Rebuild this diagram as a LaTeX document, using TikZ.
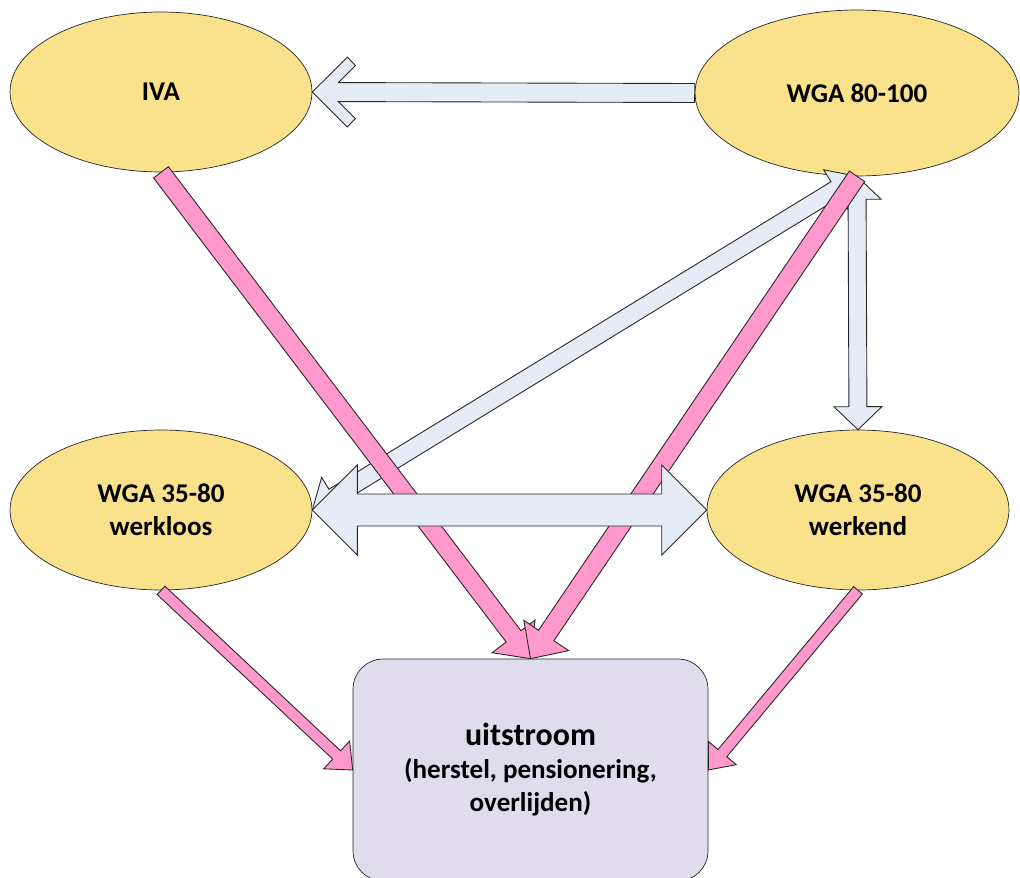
\documentclass[tikz,border=0pt]{standalone}
\usepackage{fontspec}
\setmainfont{Carlito}
\usetikzlibrary{shapes,calc,positioning}

\definecolor{stateyellow}{RGB}{250,226,141}
\definecolor{flowblue}{RGB}{230,236,246}
\definecolor{flowpink}{RGB}{255,153,204}
\definecolor{outlilac}{RGB}{224,220,236}

\tikzset{
    state/.style={ellipse, draw=black!85, fill=stateyellow, inner sep=0pt, minimum width=6.04cm, minimum height=3.2cm, align=center, font=\bfseries\fontsize{15.4}{18.8}\selectfont},
    big state/.style={state, minimum width=6.48cm, minimum height=3.32cm},
    outflow/.style={rectangle, rounded corners=0.6cm, draw=black!85, fill=outlilac, minimum width=7.1cm, minimum height=4.44cm, align=center, font=\bfseries\fontsize{15.4}{18.8}\selectfont},
    blue flow/.style={draw=black!85, fill=flowblue, line width=0.5pt},
    pink flow/.style={draw=black!85, fill=flowpink, line width=0.5pt}
}

% point #2 along the flow and #3 to its side, seen from #1
\newcommand{\flowpt}[3]{($(#1)+(\n1:#2)+(\n1+90:#3)$)}
% [style]{from}{to}{half shaft}{half head}{head length}
\newcommand{\flowarrow}[6][]{%
  \path[#1] let \p1=(#2), \p2=(#3), \n1={atan2(\y2-\y1,\x2-\x1)} in
    \flowpt{\p1}{0}{#4} -- \flowpt{\p2}{-#6}{#4} -- \flowpt{\p2}{-#6}{#5} -- (\p2)
    -- \flowpt{\p2}{-#6}{-#5} -- \flowpt{\p2}{-#6}{-#4} -- \flowpt{\p1}{0}{-#4} -- cycle;}
\newcommand{\flowboth}[6][]{%
  \path[#1] let \p1=(#2), \p2=(#3), \n1={atan2(\y2-\y1,\x2-\x1)} in
    \flowpt{\p1}{#6}{#4} -- \flowpt{\p2}{-#6}{#4} -- \flowpt{\p2}{-#6}{#5} -- (\p2)
    -- \flowpt{\p2}{-#6}{-#5} -- \flowpt{\p2}{-#6}{-#4} -- \flowpt{\p1}{#6}{-#4}
    -- \flowpt{\p1}{#6}{-#5} -- (\p1) -- \flowpt{\p1}{#6}{#5} -- cycle;}
% open (chevron) head
\newcommand{\flowopen}[3][]{%
  \path[#1] let \p1=(#2), \p2=(#3), \n1={atan2(\y2-\y1,\x2-\x1)} in
    \flowpt{\p1}{0}{9.5} -- \flowpt{\p2}{-26}{9.5} -- \flowpt{\p2}{-43}{26.5} -- \flowpt{\p2}{-35}{35} -- (\p2)
    -- \flowpt{\p2}{-35}{-35} -- \flowpt{\p2}{-43}{-26.5} -- \flowpt{\p2}{-26}{-9.5} -- \flowpt{\p1}{0}{-9.5} -- cycle;}

\begin{document}
\begin{tikzpicture}[x=0.02cm, y=0.02cm]
    \useasboundingbox (0,0) rectangle (1020,877);
    % states
    \node[state] (iva) at (161,785) {IVA};
    \node[big state] (wga) at (857,784) {WGA 80-100};
    \node[state] (loos) at (161,367) {WGA 35-80\\werkloos};
    \node[state] (kend) at (858,367) {WGA 35-80\\werkend};
    \node[outflow] (uit) at (530.5,107) {{\fontsize{18.2}{18.8}\selectfont uitstroom}\\(herstel, pensionering,\\overlijden)};
    % flows between states
    \flowboth[blue flow]{loos.east}{wga.south}{9}{23}{25}
    \flowboth[blue flow]{wga.south}{kend.north}{9}{24}{23}
    \flowarrow[pink flow]{iva.south}{uit.north}{9.3}{27}{28}
    \flowarrow[pink flow]{wga.south}{uit.north}{9.3}{27}{28}
    \flowboth[blue flow]{loos.east}{kend.west}{16}{45}{45}
    \flowopen[blue flow]{wga.west}{iva.east}
    % outflow
    \flowarrow[pink flow]{loos.south}{uit.west}{5.7}{19}{22}
    \flowarrow[pink flow]{kend.south}{uit.east}{5.7}{18}{22}
\end{tikzpicture}
\end{document}
